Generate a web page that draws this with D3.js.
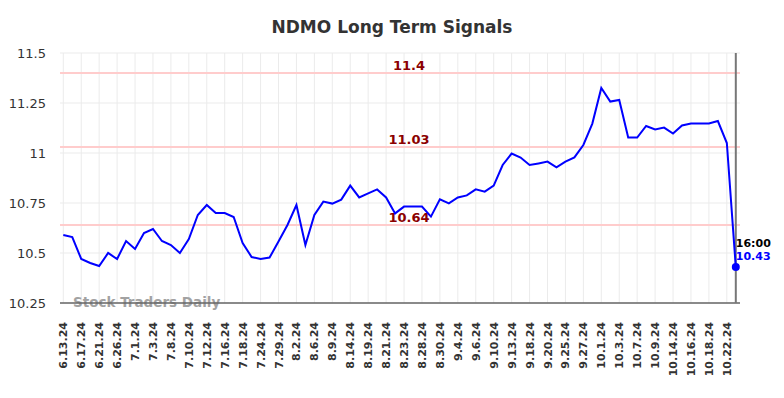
<!DOCTYPE html>
<meta charset="utf-8">
<script src="https://d3js.org/d3.v7.min.js"></script>
<style>
  body { margin: 0; background: #fff; }
  text { font-family: "DejaVu Sans", sans-serif; }
</style>
<div id="chart"></div>
<script>

// dates shown on the x axis (every other point)
var dates = ["6.13.24","6.17.24","6.21.24","6.26.24","7.1.24","7.3.24","7.8.24","7.10.24",
  "7.12.24","7.16.24","7.18.24","7.24.24","7.29.24","8.2.24","8.6.24","8.9.24","8.14.24",
  "8.19.24","8.21.24","8.23.24","8.28.24","8.30.24","9.4.24","9.6.24","9.10.24","9.13.24",
  "9.18.24","9.20.24","9.25.24","9.27.24","10.1.24","10.3.24","10.7.24","10.9.24","10.14.24",
  "10.16.24","10.18.24","10.22.24"]

// closing prices
var prices = [10.59,10.58,10.47,10.45,10.435,10.50,10.47,10.56,10.52,10.60,10.62,10.56,
  10.54,10.50,10.57,10.69,10.74,10.70,10.70,10.68,10.55,10.48,10.47,10.477,10.557,10.64,
  10.74,10.54,10.69,10.757,10.747,10.767,10.837,10.778,10.798,10.818,10.778,10.698,10.732,
  10.732,10.732,10.682,10.768,10.748,10.778,10.788,10.818,10.807,10.837,10.94,10.997,10.977,
  10.94,10.948,10.957,10.928,10.957,10.978,11.04,11.147,11.325,11.257,11.265,11.077,11.077,
  11.135,11.118,11.127,11.097,11.138,11.148,11.148,11.148,11.16,11.05,10.43]

var signals = [11.4, 11.03, 10.64]
var yTicks = [10.25, 10.5, 10.75, 11, 11.25, 11.5]
var lastLabel = "16:00"

var width = 784
    height = 398
    margin = {top: 53, right: 44, bottom: 95, left: 60}

var svg = d3.select("#chart")
  .append("svg")
    .attr("width", width)
    .attr("height", height)

var x = d3.scaleLinear()
  .domain([0, prices.length - 1])
  .range([63.3, 735.8])

var y = d3.scaleLinear()
  .domain([10.25, 11.5])
  .range([height - margin.bottom, margin.top])

// title
svg.append("text")
  .attr("x", 392)
  .attr("y", 33)
  .attr("text-anchor", "middle")
  .style("font-size", "17px")
  .style("font-weight", "bold")
  .style("fill", "#333")
  .text("NDMO Long Term Signals")

// horizontal grid + y labels
svg.selectAll(".hgrid")
  .data(yTicks)
  .enter()
  .append("line")
    .attr("x1", margin.left)
    .attr("x2", 740)
    .attr("y1", function(d){ return y(d) })
    .attr("y2", function(d){ return y(d) })
    .attr("stroke", "#ebebeb")
    .attr("stroke-width", 1)

svg.selectAll(".ylab")
  .data(yTicks)
  .enter()
  .append("text")
    .attr("x", 46)
    .attr("y", function(d){ return y(d) + 5 })
    .attr("text-anchor", "end")
    .style("font-size", "13px")
    .style("fill", "#333")
    .text(function(d){ return d })

// vertical grid at each date label
svg.selectAll(".vgrid")
  .data(dates)
  .enter()
  .append("line")
    .attr("x1", function(d, i){ return x(i * 2) })
    .attr("x2", function(d, i){ return x(i * 2) })
    .attr("y1", margin.top)
    .attr("y2", height - margin.bottom)
    .attr("stroke", "#ebebeb")
    .attr("stroke-width", 1)

// x labels, rotated
svg.selectAll(".xlab")
  .data(dates)
  .enter()
  .append("text")
    .attr("transform", function(d, i){ return "translate(" + (x(i * 2) + 4) + ",322) rotate(-90)" })
    .attr("text-anchor", "end")
    .style("font-size", "11px")
    .style("font-weight", "bold")
    .style("fill", "#333")
    .text(function(d){ return d })

// signal lines
svg.selectAll(".sig")
  .data(signals)
  .enter()
  .append("line")
    .attr("x1", margin.left)
    .attr("x2", 740)
    .attr("y1", function(d){ return y(d) })
    .attr("y2", function(d){ return y(d) })
    .attr("stroke", "#ffcccc")
    .attr("stroke-width", 2)

svg.selectAll(".siglab")
  .data(signals)
  .enter()
  .append("text")
    .attr("x", 409)
    .attr("y", function(d){ return y(d) - 3 })
    .attr("text-anchor", "middle")
    .style("font-size", "13px")
    .style("font-weight", "bold")
    .style("fill", "#8b0000")
    .text(function(d){ return d })

// watermark
svg.append("text")
  .attr("x", 73)
  .attr("y", 307)
  .style("font-size", "13.5px")
  .style("font-weight", "bold")
  .style("fill", "#999")
  .style("opacity", 0.9)
  .text("Stock Traders Daily")

// axis lines
svg.append("line")
  .attr("x1", margin.left)
  .attr("x2", 740)
  .attr("y1", height - margin.bottom)
  .attr("y2", height - margin.bottom)
  .attr("stroke", "#666")
  .attr("stroke-width", 1.5)

svg.append("line")
  .attr("x1", x(prices.length - 1))
  .attr("x2", x(prices.length - 1))
  .attr("y1", margin.top)
  .attr("y2", height - margin.bottom)
  .attr("stroke", "#777")
  .attr("stroke-width", 2)

// price line
var line = d3.line()
  .x(function(d, i){ return x(i) })
  .y(function(d){ return y(d) })

svg.append("path")
  .datum(prices)
  .attr("d", line)
  .attr("fill", "none")
  .attr("stroke", "blue")
  .attr("stroke-width", 2)

// last point
var last = prices[prices.length - 1]
svg.append("circle")
  .attr("cx", x(prices.length - 1))
  .attr("cy", y(last))
  .attr("r", 4)
  .attr("fill", "blue")

svg.append("text")
  .attr("x", x(prices.length - 1))
  .attr("y", 247)
  .style("font-size", "11px")
  .style("font-weight", "bold")
  .style("fill", "#000")
  .text(lastLabel)

svg.append("text")
  .attr("x", x(prices.length - 1))
  .attr("y", 260)
  .style("font-size", "11px")
  .style("font-weight", "bold")
  .style("fill", "blue")
  .text(last)

</script>
